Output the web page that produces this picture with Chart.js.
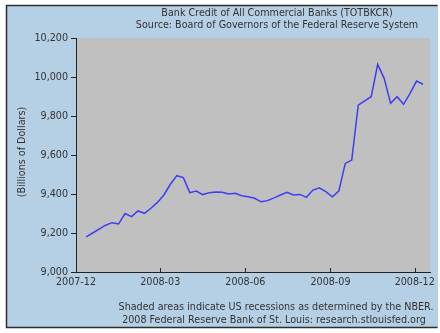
<!DOCTYPE html>
<html lang="en">
<head>
    <meta charset="UTF-8">
    <title>Bank Credit of All Commercial Banks</title>
    <script src="https://cdn.jsdelivr.net/npm/chart.js"></script>
    <style>
        html, body {
            margin: 0;
            padding: 0;
            background: #fff;
        }
        #wrap {
            width: 440px;
            height: 333px;
        }
    </style>
</head>
<body>
    <div id="wrap"><canvas id="creditChart" width="440" height="333"></canvas></div>

    <script>
        // Weekly observations (Wednesdays), billions of dollars
        const weeks = [
            '2007-12-12', '2007-12-19', '2007-12-26', '2008-01-02', '2008-01-09', '2008-01-16',
            '2008-01-23', '2008-01-30', '2008-02-06', '2008-02-13', '2008-02-20', '2008-02-27',
            '2008-03-05', '2008-03-12', '2008-03-19', '2008-03-26', '2008-04-02', '2008-04-09',
            '2008-04-16', '2008-04-23', '2008-04-30', '2008-05-07', '2008-05-14', '2008-05-21',
            '2008-05-28', '2008-06-04', '2008-06-11', '2008-06-18', '2008-06-25', '2008-07-02',
            '2008-07-09', '2008-07-16', '2008-07-23', '2008-07-30', '2008-08-06', '2008-08-13',
            '2008-08-20', '2008-08-27', '2008-09-03', '2008-09-10', '2008-09-17', '2008-09-24',
            '2008-10-01', '2008-10-08', '2008-10-15', '2008-10-22', '2008-10-29', '2008-11-05',
            '2008-11-12', '2008-11-19', '2008-11-26', '2008-12-03', '2008-12-10'
        ];
        const credit = [
            9180, 9200, 9220, 9240, 9253, 9246,
            9300, 9284, 9313, 9301, 9327, 9357,
            9395, 9450, 9494, 9484, 9407, 9415,
            9397, 9407, 9410, 9409, 9400, 9404,
            9391, 9386, 9378, 9360, 9366, 9380,
            9395, 9409, 9395, 9398, 9383, 9420,
            9432, 9412, 9386, 9415, 9557, 9574,
            9856, 9877, 9899, 10065, 9993, 9865,
            9899, 9860, 9916, 9979, 9963
        ];
        const tickDates = ['2007-12-01', '2008-03-01', '2008-06-01', '2008-09-01', '2008-12-01'];
        const tickLabels = ['2007-12', '2008-03', '2008-06', '2008-09', '2008-12'];
        const axisEnd = '2008-12-18';

        const titleLines = [
            'Bank Credit of All Commercial Banks (TOTBKCR)',
            'Source: Board of Governors of the Federal Reserve System'
        ];
        const footerLines = [
            'Shaded areas indicate US recessions as determined by the NBER.',
            '2008 Federal Reserve Bank of St. Louis: research.stlouisfed.org'
        ];
        const yTitle = '(Billions of Dollars)';

        // x axis runs in days counted from the first tick date
        const DAY = 86400000;
        const origin = Date.parse(tickDates[0]);
        const dayOf = d => Math.round((Date.parse(d) - origin) / DAY);
        const tickDays = tickDates.map(dayOf);

        const FONT = '"DejaVu Sans", Verdana, sans-serif';
        const SIZE = 9.6;
        const TEXT = '#333333';

        // panel, recession shading, captions and inward x tick marks
        const framePlugin = {
            id: 'frame',
            beforeDraw(chart) {
                const c = chart.ctx;
                const a = chart.chartArea;
                c.save();
                c.fillStyle = '#ffffff';
                c.fillRect(0, 0, chart.width, chart.height);
                c.fillStyle = '#b5cfe5';
                c.fillRect(6, 5, 432, 323);
                c.strokeStyle = '#2e2e2e';
                c.lineWidth = 1.5;
                c.beginPath();
                c.moveTo(437.5, 5.5);
                c.lineTo(6.5, 5.5);
                c.lineTo(6.5, 327.5);
                c.lineTo(437.5, 327.5);
                c.stroke();
                // whole span lies in the 2007-2009 recession
                c.fillStyle = '#c0c0c0';
                c.fillRect(a.left, a.top, a.right - a.left, a.bottom - a.top);
                c.restore();
            },
            afterDraw(chart) {
                const c = chart.ctx;
                const a = chart.chartArea;
                const xs = chart.scales.x;
                c.save();
                c.strokeStyle = '#222';
                c.lineWidth = 1;
                tickDays.forEach(d => {
                    const px = Math.round(xs.getPixelForValue(d)) + 0.5;
                    c.beginPath();
                    c.moveTo(px, a.bottom);
                    c.lineTo(px, a.bottom - 4);
                    c.stroke();
                });
                c.fillStyle = TEXT;
                c.font = SIZE + 'px ' + FONT;
                c.textAlign = 'center';
                c.textBaseline = 'middle';
                c.fillText(titleLines[0], 277, 13);
                c.fillText(titleLines[1], 277, 25);
                c.fillText(footerLines[0], 276, 307);
                c.fillText(footerLines[1], 274, 320);
                c.translate(22, 152);
                c.rotate(-Math.PI / 2);
                c.fillText(yTitle, 0, 0);
                c.restore();
            }
        };

        new Chart(document.getElementById('creditChart'), {
            type: 'line',
            data: {
                datasets: [{
                    data: weeks.map((w, i) => ({ x: dayOf(w), y: credit[i] })),
                    borderColor: '#3d3df2',
                    borderWidth: 1.5,
                    pointRadius: 0,
                    tension: 0,
                    fill: false
                }]
            },
            options: {
                responsive: false,
                animation: false,
                events: [],
                layout: { padding: { left: 0, right: 6, top: 38, bottom: 0 } },
                plugins: {
                    legend: { display: false },
                    tooltip: { enabled: false }
                },
                scales: {
                    x: {
                        type: 'linear',
                        min: 0,
                        max: dayOf(axisEnd),
                        afterFit(scale) { scale.height = 61; },
                        afterBuildTicks(scale) {
                            scale.ticks = tickDays.map(v => ({ value: v }));
                        },
                        grid: { display: false, drawTicks: false },
                        border: { display: true, color: '#222', width: 1 },
                        ticks: {
                            autoSkip: false,
                            maxRotation: 0,
                            padding: 5,
                            color: TEXT,
                            font: { family: FONT, size: SIZE },
                            callback: v => tickLabels[tickDays.indexOf(v)]
                        }
                    },
                    y: {
                        min: 9000,
                        max: 10200,
                        afterFit(scale) { scale.width = 76; },
                        grid: {
                            drawOnChartArea: false,
                            drawTicks: true,
                            tickLength: 5,
                            color: '#222'
                        },
                        border: { display: true, color: '#222', width: 1 },
                        ticks: {
                            stepSize: 200,
                            padding: 3,
                            color: TEXT,
                            font: { family: FONT, size: SIZE },
                            callback: v => v.toLocaleString('en-US')
                        }
                    }
                }
            },
            plugins: [framePlugin]
        });
    </script>
</body>
</html>
